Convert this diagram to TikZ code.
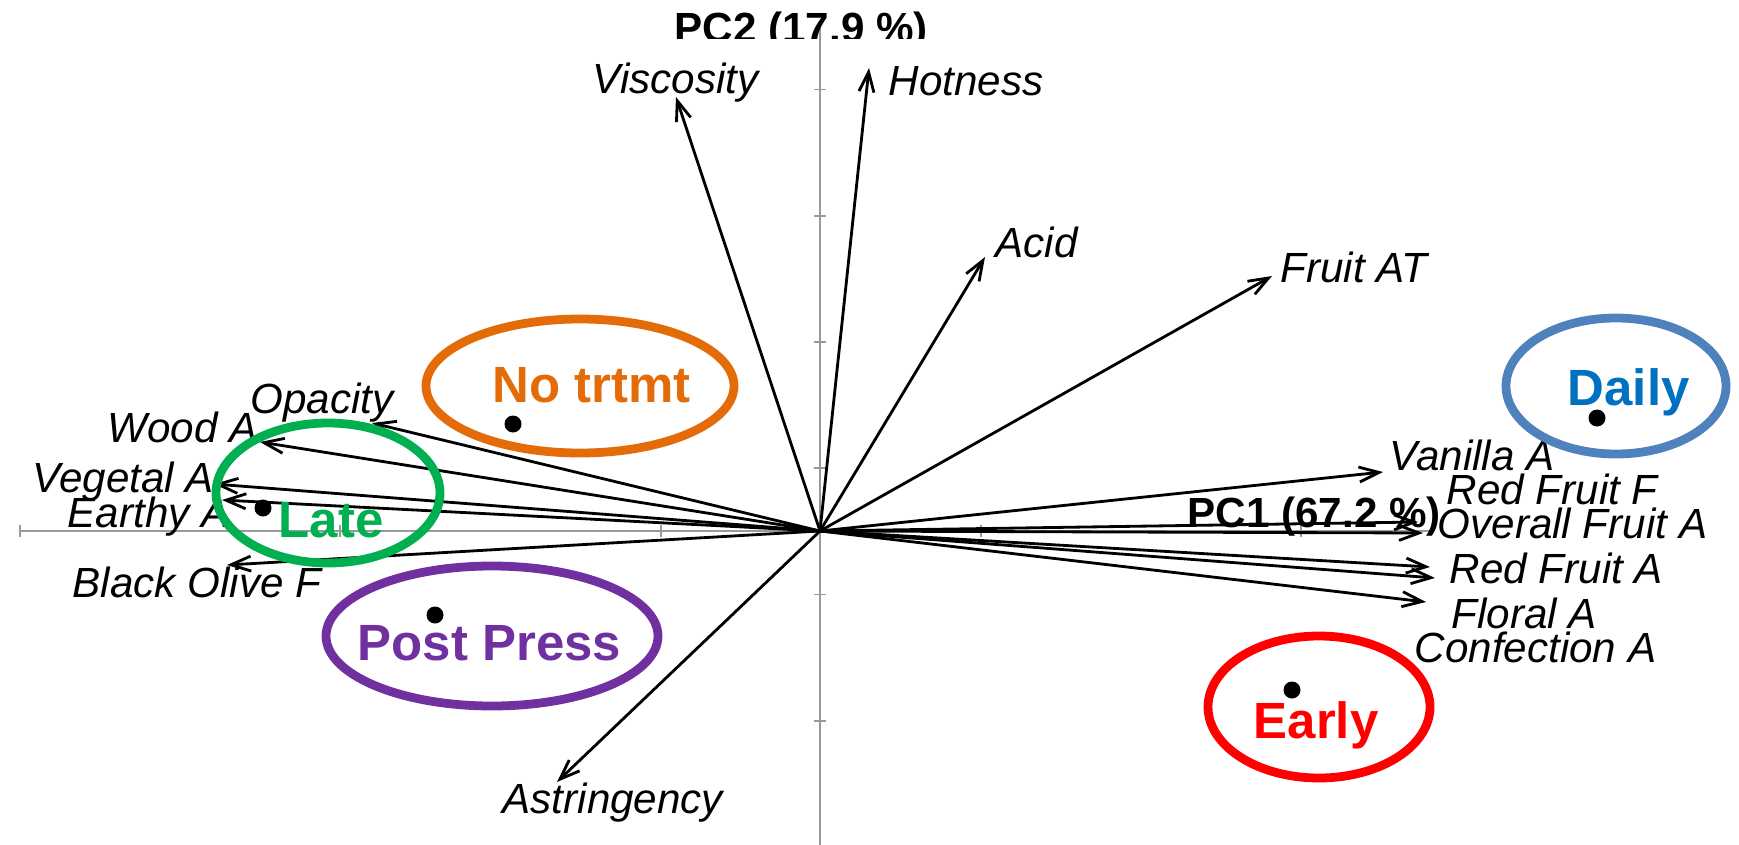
\documentclass[tikz,border=0pt]{standalone}
\usepackage{fontspec}
\setmainfont{Liberation Sans}
\usetikzlibrary{arrows.meta}
\definecolor{notrtmt}{HTML}{E36C09}
\definecolor{late}{HTML}{00B050}
\definecolor{postpress}{HTML}{7030A0}
\definecolor{early}{HTML}{FF0000}
\definecolor{dailyring}{HTML}{4F81BD}
\definecolor{dailytext}{HTML}{0070C0}
\tikzset{vec/.style = {draw=black, line width=0.8pt,
                       -{Straight Barb[length=2mm,width=1.5mm]}}}
\tikzset{attr/.style = {anchor=base west, inner sep=0,
                        font=\fontsize{12}{14}\selectfont\itshape}}
\tikzset{pclabel/.style = {anchor=base west, inner sep=0,
                           font=\fontsize{12}{14}\selectfont\bfseries}}
\tikzset{grouplabel/.style = {anchor=base west, inner sep=0,
                              font=\fontsize{14.5}{17}\selectfont\bfseries}}
\tikzset{ring/.style = {line width=2.5pt}}
\tikzset{axisline/.style = {draw=black!40, line width=0.5pt}}
\tikzset{dot/.style = {fill, circle, inner sep=0, minimum size=1.7mm}}

\begin{document}
\begin{tikzpicture}[x=0.1mm, y=-0.1mm]
    \useasboundingbox (0,0) rectangle (1739,845);
    \coordinate (O) at (820,531);
    % axes
    \draw[axisline] (20,531) -- (1430,531);
    \draw[axisline] (820,27) -- (820,845);
    \foreach \x in {20,340.3,660.7,981,1301.3}
      \draw[axisline] (\x,525) -- (\x,537);
    \foreach \y in {89.4,215.7,342,468.3,594.6,720.9}
      \draw[axisline] (814,\y) -- (826,\y);
    \begin{scope}
      \clip (600,0) rectangle (1000,38);
      \node[pclabel] (pc2) at (674,43) {PC2 (17.9 \%)};
    \end{scope}
    \node[pclabel] (pc1) at (1187,527) {PC1 (67.2 \%)};
    % attribute labels
    \node[attr] (viscosity) at (592,93) {Viscosity};
    \node[attr] (hotness) at (888,95) {Hotness};
    \node[attr] (acid) at (995,257) {Acid};
    \node[attr] (fruitat) at (1280,282) {Fruit AT};
    \node[attr] (vanilla) at (1389,470) {Vanilla A};
    \node[attr] (redfruitf) at (1446,504) {Red Fruit F};
    \node[attr] (overall) at (1437,538) {Overall Fruit A};
    \node[attr] (redfruita) at (1449,583) {Red Fruit A};
    \node[attr] (floral) at (1451,628) {Floral A};
    \node[attr] (confection) at (1414,662) {Confection A};
    \node[attr] (astringency) at (502,813) {Astringency};
    \node[attr] (opacity) at (250,413) {Opacity};
    \node[attr] (wood) at (107,442) {Wood A};
    \node[attr] (vegetal) at (32,492) {Vegetal A};
    \node[attr] (earthy) at (67,527) {Earthy A};
    \node[attr] (olive) at (72,597) {Black Olive F};
    % loading vectors
    \coordinate (tviscosity) at (676,97);
    \coordinate (thotness) at (869,68);
    \coordinate (tacid) at (985,257);
    \coordinate (tfruitat) at (1272,276);
    \coordinate (tvanilla) at (1383,472);
    \coordinate (tredfruitf) at (1418,522);
    \coordinate (toverall) at (1423,533);
    \coordinate (tredfruita) at (1430,567);
    \coordinate (tfloral) at (1435,578);
    \coordinate (tconfection) at (1426,602);
    \coordinate (tastringency) at (557,782);
    \coordinate (topacity) at (372,423);
    \coordinate (twood) at (260,442);
    \coordinate (tvegetal) at (214,484);
    \coordinate (tearthy) at (222,500);
    \coordinate (tolive) at (227,565);
    \foreach \t in {viscosity,hotness,acid,fruitat,vanilla,redfruitf,overall,
                    redfruita,floral,confection,astringency,opacity,wood,
                    vegetal,earthy,olive}
      \draw[vec] (O) -- (t\t);
    % treatment groups
    \draw[ring, notrtmt] (580,386) ellipse [x radius=154, y radius=67];
    \draw[ring, late] (328,493) ellipse [x radius=112, y radius=70];
    \draw[ring, postpress] (492,636) ellipse [x radius=166, y radius=70];
    \draw[ring, early] (1319,707) ellipse [x radius=111, y radius=71];
    \draw[ring, dailyring] (1616,386) ellipse [x radius=110, y radius=68];
    \node[grouplabel, notrtmt] (notrtmtlabel) at (492,402) {No trtmt};
    \node[grouplabel, late] (latelabel) at (278,537) {Late};
    \node[grouplabel, postpress] (postpresslabel) at (357,660) {Post Press};
    \node[grouplabel, early] (earlylabel) at (1253,738) {Early};
    \node[grouplabel, dailytext] (dailylabel) at (1567,405) {Daily};
    \node[dot] (notrtmtpt) at (513,424) {};
    \node[dot] (latept) at (263,508) {};
    \node[dot] (postpresspt) at (435,615) {};
    \node[dot] (earlypt) at (1292,690) {};
    \node[dot] (dailypt) at (1597,418) {};
\end{tikzpicture}
\end{document}
